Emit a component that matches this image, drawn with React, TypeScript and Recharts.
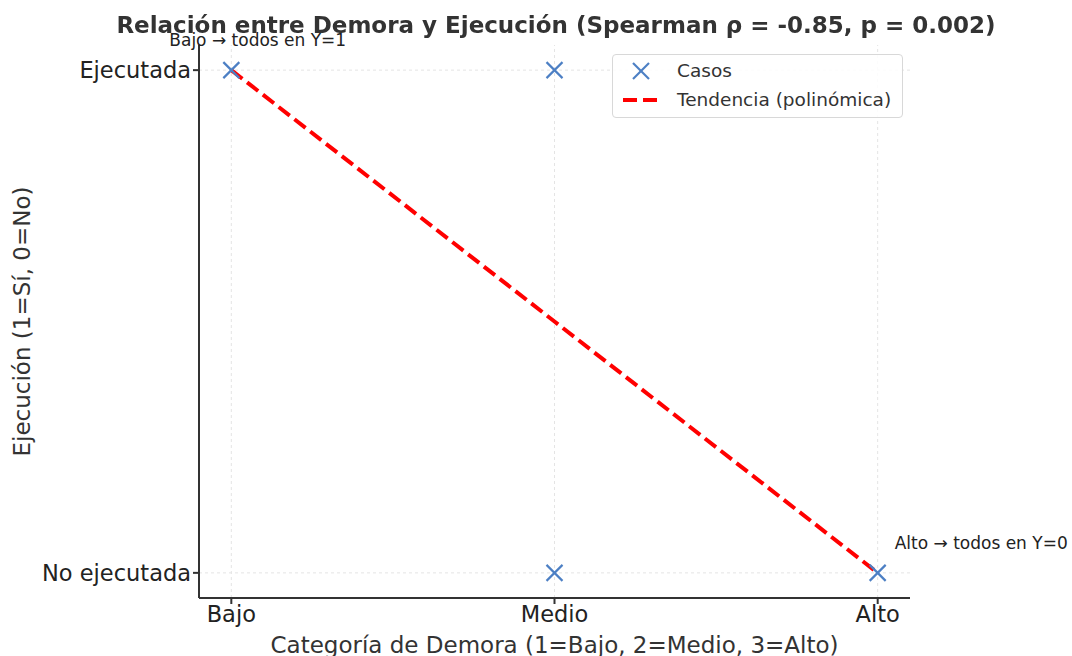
import {
  ComposedChart,
  Scatter,
  Line,
  XAxis,
  YAxis,
  ReferenceLine,
  ReferenceDot,
} from 'recharts';

const categoryLabels = ['Bajo', 'Medio', 'Alto'];
const caseDelay = [1, 2, 2, 3];
const caseExecuted = [1, 1, 0, 0];
const trendDelay = [1, 2, 3];
const trendValue = [1, 0.5, 0];
const yTickLabels = ['No ejecutada', 'Ejecutada'];
const xTicks = [1, 2, 3];
const yTicks = [0, 1];

const cases = caseDelay.map((x, i) => ({ x, y: caseExecuted[i] }));
const trend = trendDelay.map((x, i) => ({ x, y: trendValue[i] }));

const FONT = '"DejaVu Sans", sans-serif';
const BLUE = '#4C7FC4';
const AXIS = '#333333';
const GRID = '#e4e4e4';

const XMarker = (props: any) => {
  const { cx, cy } = props;
  const s = 8;
  return (
    <g stroke={BLUE} strokeWidth={2.2}>
      <line x1={cx - s} y1={cy - s} x2={cx + s} y2={cy + s} />
      <line x1={cx - s} y1={cy + s} x2={cx + s} y2={cy - s} />
    </g>
  );
};

// legend drawn as a box over the plot, like matplotlib's upper right
const LegendBox = () => (
  <div
    style={{
      position: 'absolute',
      left: 612,
      top: 54,
      width: 291,
      height: 64,
      border: '1px solid #d8d8d8',
      borderRadius: 4,
      background: 'rgba(255,255,255,0.85)',
      fontFamily: FONT,
      fontSize: 18.5,
      color: '#333',
      boxSizing: 'border-box',
    }}
  >
    <div style={{ position: 'absolute', left: 10, top: 5, display: 'flex', alignItems: 'center' }}>
      <svg width={40} height={20}>
        <line x1={10} y1={2} x2={26} y2={18} stroke={BLUE} strokeWidth={2.2} />
        <line x1={10} y1={18} x2={26} y2={2} stroke={BLUE} strokeWidth={2.2} />
      </svg>
      <span style={{ marginLeft: 14 }}>Casos</span>
    </div>
    <div style={{ position: 'absolute', left: 10, top: 34, display: 'flex', alignItems: 'center' }}>
      <svg width={40} height={20}>
        <line x1={0} y1={10} x2={38} y2={10} stroke="#ff0000" strokeWidth={4} strokeDasharray="14 6" />
      </svg>
      <span style={{ marginLeft: 14 }}>Tendencia (polinómica)</span>
    </div>
  </div>
);

const annotation = (text: string, dx: number, dy: number) => (props: any) => {
  const { viewBox } = props;
  const cx = viewBox.x + viewBox.width / 2;
  const cy = viewBox.y + viewBox.height / 2;
  return (
    <text x={cx + dx} y={cy + dy} fontSize={17} fontFamily={FONT} fill="#222">
      {text}
    </text>
  );
};

export default function App() {
  return (
    <div style={{ position: 'fixed', left: 0, top: 0, width: 1072, height: 656, background: '#fff' }}>
      <ComposedChart
        width={1072}
        height={656}
        margin={{ top: 45, right: 162, left: 0, bottom: 0 }}
        style={{ fontFamily: FONT }}
      >
        <XAxis
          type="number"
          dataKey="x"
          domain={[0.9, 3.1]}
          ticks={xTicks}
          tickFormatter={(v: number) => categoryLabels[v - 1]}
          allowDataOverflow
          height={58}
          stroke={AXIS}
          strokeWidth={2}
          tick={{ fill: '#222', fontSize: 22.5 }}
          tickSize={6}
          label={{
            value: 'Categoría de Demora (1=Bajo, 2=Medio, 3=Alto)',
            position: 'insideBottom',
            offset: 3,
            fill: '#333',
            fontSize: 23,
          }}
        />
        <YAxis
          type="number"
          dataKey="y"
          domain={[-0.05, 1.05]}
          ticks={yTicks}
          tickFormatter={(v: number) => yTickLabels[v]}
          allowDataOverflow
          width={199}
          stroke={AXIS}
          strokeWidth={2}
          tick={{ fill: '#222', fontSize: 22.5 }}
          tickSize={6}
          label={{
            value: 'Ejecución (1=Sí, 0=No)',
            angle: -90,
            position: 'insideLeft',
            offset: 22,
            style: { textAnchor: 'middle' },
            fill: '#333',
            fontSize: 23,
          }}
        />
        {/* grid only at the ticks */}
        {xTicks.map((t) => (
          <ReferenceLine key={'gx' + t} x={t} stroke={GRID} strokeDasharray="3 3" />
        ))}
        {yTicks.map((t) => (
          <ReferenceLine key={'gy' + t} y={t} stroke={GRID} strokeDasharray="3 3" />
        ))}
        <Line
          data={trend}
          dataKey="y"
          type="linear"
          stroke="#ff0000"
          strokeWidth={4}
          strokeDasharray="14 6"
          dot={false}
          activeDot={false}
          isAnimationActive={false}
          legendType="none"
        />
        <Scatter data={cases} dataKey="y" shape={<XMarker />} isAnimationActive={false} />
        <ReferenceDot
          x={1}
          y={1}
          r={0}
          ifOverflow="visible"
          label={annotation('Bajo → todos en Y=1', -62, -24)}
        />
        <ReferenceDot
          x={3}
          y={0}
          r={0}
          ifOverflow="visible"
          label={annotation('Alto → todos en Y=0', 17, -24)}
        />
      </ComposedChart>
      <div
        style={{
          position: 'absolute',
          left: 0,
          width: 1112,
          top: 12,
          textAlign: 'center',
          fontFamily: FONT,
          fontWeight: 'bold',
          fontSize: 23,
          color: '#333',
          whiteSpace: 'nowrap',
        }}
      >
        Relación entre Demora y Ejecución (Spearman ρ = -0.85, p = 0.002)
      </div>
      <LegendBox />
    </div>
  );
}
